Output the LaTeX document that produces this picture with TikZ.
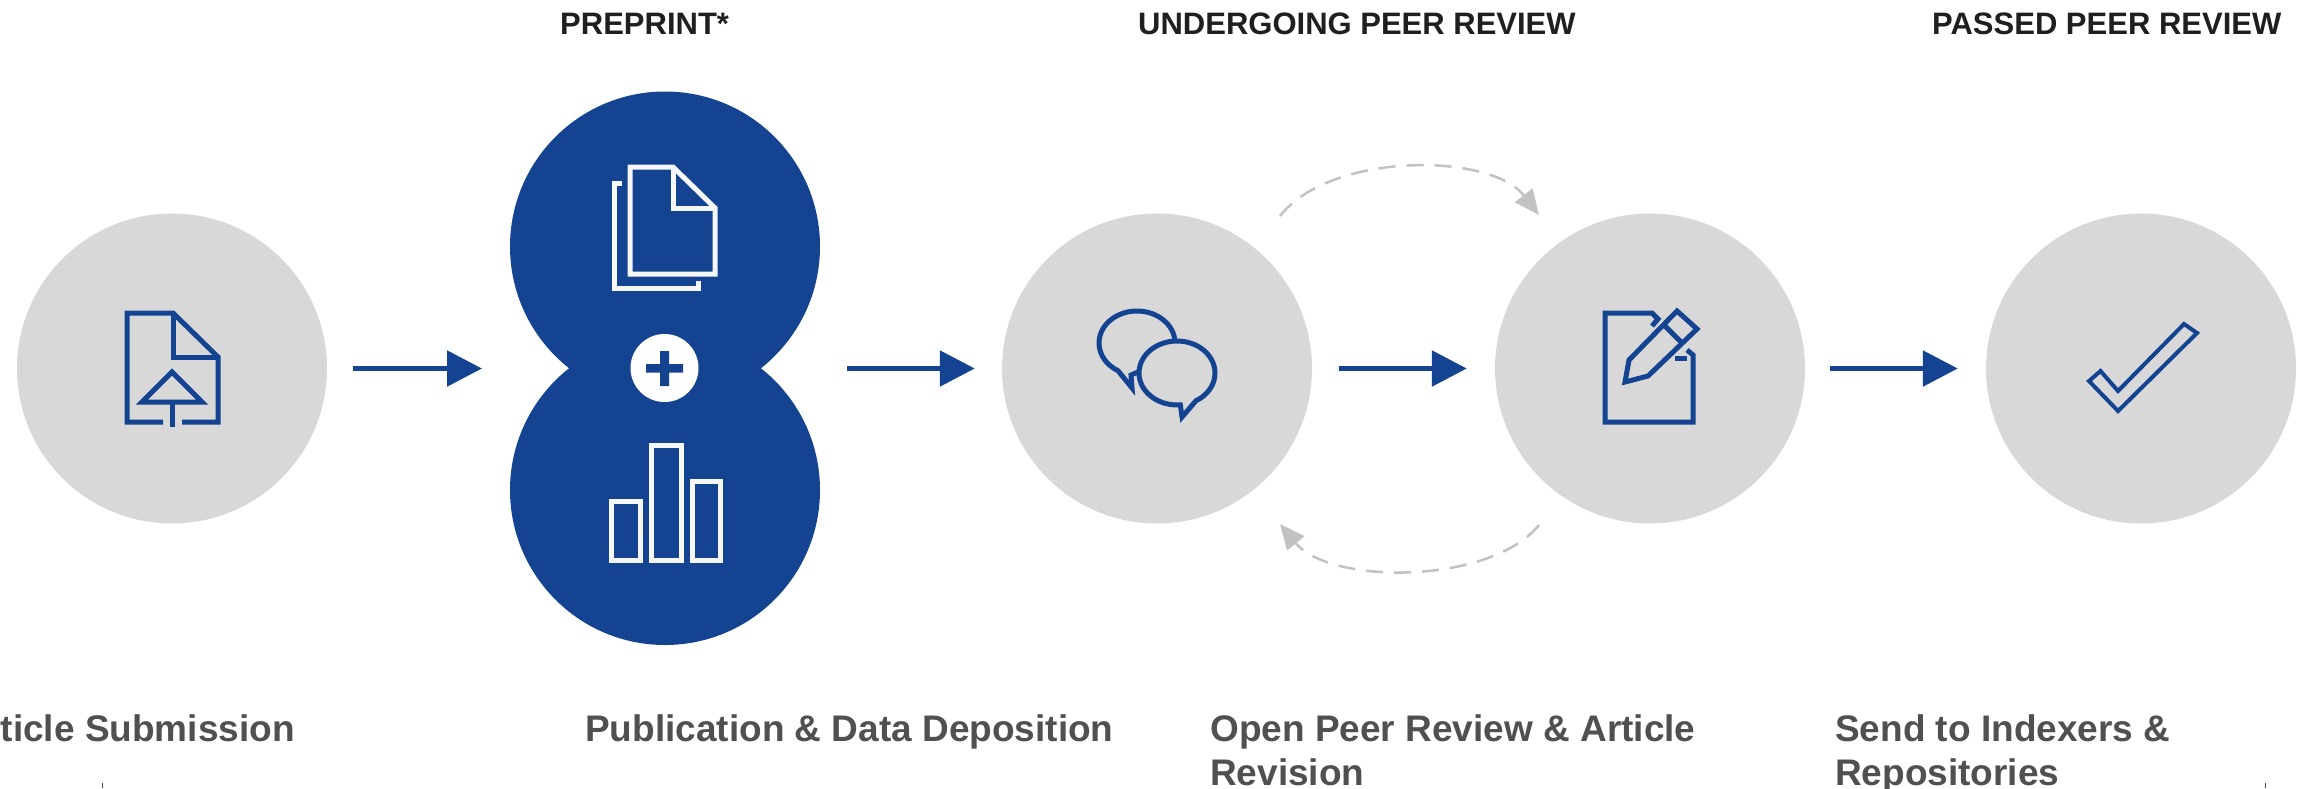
\documentclass[tikz,border=0pt]{standalone}
\usepackage{fontspec}
\setmainfont{Liberation Sans}
\usetikzlibrary{arrows.meta}
\definecolor{blueA}{HTML}{134391}
\definecolor{greyA}{HTML}{D8D8D8}
\definecolor{dashA}{HTML}{C2C2C2}
\definecolor{headA}{HTML}{1F1F1F}
\definecolor{labelA}{HTML}{505050}
\tikzset{
  graycirc/.style={circle,fill=greyA,draw=none,minimum size=310pt,inner sep=0pt},
  bluecirc/.style={circle,fill=blueA,draw=none,minimum size=310pt,inner sep=0pt},
  flow/.style={draw=blueA,line width=5.5pt,-{Triangle[length=35pt,width=35pt,fill=blueA]}},
  loopline/.style={draw=dashA,line width=2.5pt,dash pattern=on 17pt off 11pt,-{Triangle[length=25pt,width=22pt,fill=dashA]}},
  iconb/.style={draw=blueA,line width=5pt,miter limit=10},
  iconw/.style={draw=white!96!blueA,line width=5pt,miter limit=10},
  headtxt/.style={anchor=base west,inner sep=0pt,text=headA,font=\fontsize{31}{31}\selectfont\bfseries},
  labeltxt/.style={anchor=base west,inner sep=0pt,text=labelA,font=\fontsize{37}{44}\selectfont\bfseries},
  tick/.style={draw=black!70,line width=1pt}
}
\begin{document}
\begin{tikzpicture}[x=1pt,y=-1pt]
\useasboundingbox (0,0) rectangle (2298,788);
% circles
\node[graycirc] (c1) at (172,368.5) {};
\node[bluecirc] (pa) at (665,246.5) {};
\node[bluecirc] (pb) at (665,490) {};
\node[graycirc] (c3) at (1157,368.5) {};
\node[graycirc] (c4) at (1650,368.5) {};
\node[graycirc] (c5) at (2141,368.5) {};
\node[circle,fill=white,minimum size=68pt,inner sep=0pt] (plus) at (664.5,368) {};
\fill[blueA] (646,364) rectangle (683,372.5) (660,351) rectangle (669,386);
% free ends
\coordinate (prew) at (569,368.5);
\coordinate (pree) at (760,368.5);
\coordinate (ua) at (1280,216);
\coordinate (ub) at (1539,215);
\coordinate (la) at (1539,525);
\coordinate (lb) at (1280,524);
% arrows
\draw[flow,shorten <=26pt,shorten >=87pt] (c1.east) -- (prew);
\draw[flow,shorten <=87pt,shorten >=27pt] (pree) -- (c3.west);
\draw[flow,shorten <=27pt,shorten >=28pt] (c3.east) -- (c4.west);
\draw[flow,shorten <=25pt,shorten >=28pt] (c4.east) -- (c5.west);
\draw[loopline] (ua) .. controls (1330,152) and (1490,152) .. (ub);
\draw[loopline] (la) .. controls (1490,585) and (1330,585) .. (lb);
% icon 1 : upload file
\draw[iconb] (163,422) -- (127,422) -- (127,313) -- (173,313) -- (218,357) -- (218,422) -- (182,422);
\draw[iconb] (173,313) -- (173,357) -- (218,357);
\draw[iconb] (172,372) -- (142,402) -- (202,402) -- cycle;
\draw[iconb] (172,402) -- (172,427);
% icon 2 : documents
\draw[iconw] (630,167) -- (673,167) -- (715,208) -- (715,274) -- (630,274) -- cycle;
\draw[iconw] (673,167) -- (673,208) -- (715,208);
\draw[iconw] (622,183) -- (614,183) -- (614,288) -- (698,288) -- (698,281);
% icon 3 : bars
\draw[iconw] (611,501.5) rectangle (640,560);
\draw[iconw] (651.5,445) rectangle (681,560);
\draw[iconw] (692,481) rectangle (720,560);
% icon 4 : speech bubbles
\draw[iconb] (1137,343) ++(2:38pt and 32pt) arc[start angle=2,end angle=240,x radius=38pt,y radius=32pt] -- (1132,388) -- (1131,375) -- (1138,372);
\draw[iconb] (1177,373) ++(300:38pt and 32pt) arc[start angle=300,end angle=635,x radius=38pt,y radius=32pt] -- (1182,417) -- cycle;
% icon 5 : pencil and sheet
\draw[iconb] (1652,326) -- (1658,319) -- (1652,313) -- (1605,313) -- (1605,422) -- (1693,422) -- (1693,355) -- (1687,350);
\draw[iconb] (1687,358) -- (1675,358);
\draw[iconb] (1625,382) -- (1629,360) -- (1677,311) -- (1697,329) -- (1648,376) -- cycle;
\draw[iconb] (1665,326) -- (1683,344);
% icon 6 : check
\draw[draw=blueA,line width=4pt] (2089,381) -- (2100.5,371) -- (2118,391) -- (2184,324) -- (2197,333) -- (2118,411) -- cycle;
% headers
\node[headtxt] (h1) at (560,34) {PREPRINT*};
\node[headtxt] (h2) at (1138,34) {UNDERGOING PEER REVIEW};
\node[headtxt] (h3) at (1932,34) {PASSED PEER REVIEW};
% labels
\node[labeltxt,anchor=base east] (l1) at (295,741) {ticle Submission};
\node[labeltxt] (l2) at (585,741) {Publication \& Data Deposition};
\node[labeltxt] (l3a) at (1210,741) {Open Peer Review \& Article};
\node[labeltxt] (l3b) at (1210,785) {Revision};
\node[labeltxt] (l4a) at (1835,741) {Send to Indexers \&};
\node[labeltxt] (l4b) at (1835,785) {Repositories};
% specks at the lower edge
\coordinate (t1) at (102,783); \coordinate (t1e) at (102,788);
\coordinate (t2) at (2265,783); \coordinate (t2e) at (2265,788);
\draw[tick] (t1) -- (t1e);
\draw[tick] (t2) -- (t2e);
\end{tikzpicture}
\end{document}
